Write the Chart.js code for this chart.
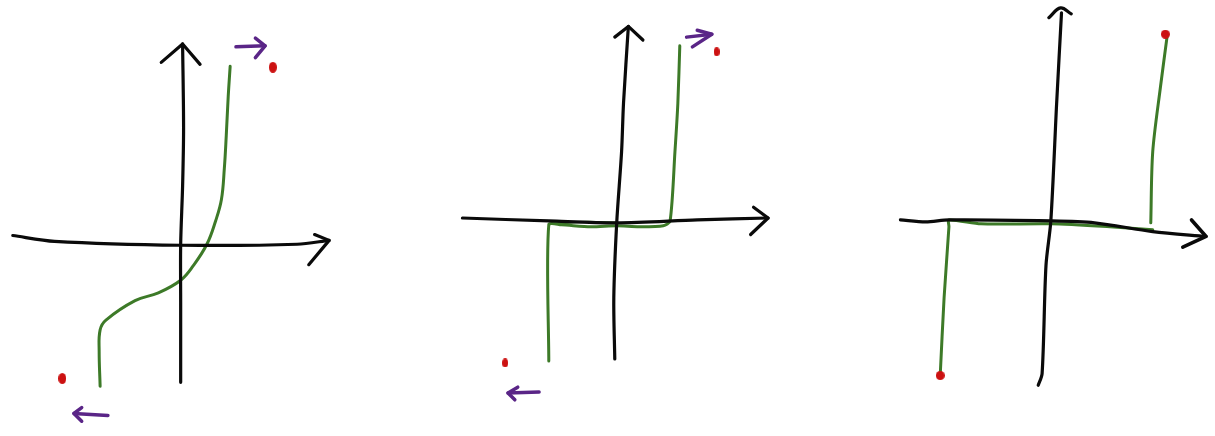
<!DOCTYPE html>
<html>
<head>
<meta charset="utf-8">
<script src="https://cdn.jsdelivr.net/npm/chart.js@4/dist/chart.umd.min.js"></script>
<style>
  html, body { margin: 0; padding: 0; background: #ffffff; }
  #wrap { position: relative; width: 1215px; height: 436px; display: flex; }
  .panel { width: 405px; height: 436px; position: relative; }
  canvas { display: block; }
</style>
</head>
<body>
<div id="wrap">
  <div class="panel"><canvas id="c1" width="405" height="436"></canvas></div>
  <div class="panel"><canvas id="c2" width="405" height="436"></canvas></div>
  <div class="panel"><canvas id="c3" width="405" height="436"></canvas></div>
</div>
<script>
// ---- Panel 1: smooth S-shaped curve ----
const p1YAxis = [{x:0,y:-142},{x:0,y:-60},{x:0,y:0},{x:2,y:60},{x:3,y:120},{x:2,y:206}];
const p1YHead = [{x:-20,y:187},{x:2,y:206},{x:20,y:185}];
const p1XAxis = [{x:-173,y:9},{x:-130,y:3},{x:0,y:-1},{x:120,y:0},{x:153,y:4}];
const p1XHead = [{x:138,y:10},{x:153,y:4},{x:132,y:-21}];
const p1Curve = [{x:-83,y:-146},{x:-84,y:-110},{x:-83,y:-88},{x:-77,y:-78},{x:-47,y:-58},{x:-23,y:-50},{x:0,y:-37},{x:13,y:-22},{x:27,y:0},{x:36,y:24},{x:42,y:46},{x:45,y:78},{x:47,y:112},{x:49,y:152},{x:51,y:183}];
const p1Dots = [{x:95,y:182},{x:-122,y:-138}];
const p1ArrowRight = [{x:57,y:203},{x:87,y:204}];
const p1ArrowRightHead = [{x:77,y:212},{x:87,y:204},{x:77,y:192}];
const p1ArrowLeft = [{x:-75,y:-176},{x:-110,y:-174}];
const p1ArrowLeftHead = [{x:-102,y:-168},{x:-110,y:-174},{x:-102,y:-182}];

// ---- Panel 2: step with flat middle ----
const p2YAxis = [{x:-2,y:-140},{x:-3,y:-77},{x:0,y:0},{x:5,y:73},{x:7,y:123},{x:12,y:202}];
const p2YHead = [{x:-2,y:191},{x:12,y:202},{x:27,y:188}];
const p2XAxis = [{x:-159,y:5},{x:-70,y:2},{x:0,y:0},{x:83,y:3},{x:156,y:5}];
const p2XHead = [{x:141,y:16},{x:156,y:5},{x:138,y:-12}];
const p2Curve = [{x:-70,y:-142},{x:-70,y:-2},{x:-57,y:-2},{x:-27,y:-4},{x:0,y:-3},{x:23,y:-4},{x:48,y:-3},{x:55,y:2},{x:60,y:73},{x:63,y:123},{x:65,y:182}];
const p2Return = [{x:-70,y:-1},{x:-30,y:1},{x:0,y:0}];
const p2Dots = [{x:103,y:176},{x:-115,y:-144}];
const p2ArrowRight = [{x:72,y:191},{x:98,y:194}];
const p2ArrowRightHead = [{x:83,y:198},{x:98,y:194},{x:78,y:181}];
const p2ArrowLeft = [{x:-80,y:-174},{x:-112,y:-175}];
const p2ArrowLeftHead = [{x:-102,y:-169},{x:-112,y:-175},{x:-105,y:-182}];

// ---- Panel 3: wide step ----
const p3YAxis = [{x:-13,y:-169},{x:-9,y:-157},{x:-5,y:-46},{x:0,y:0},{x:6,y:121},{x:11,y:214}];
const p3YHead = [{x:-2,y:209},{x:10,y:219},{x:21,y:213}];
const p3XAxis = [{x:-155,y:1},{x:-129,y:-1},{x:-105,y:1},{x:0,y:0},{x:45,y:-2},{x:105,y:-11},{x:160,y:-16}];
const p3XHead = [{x:145,y:1},{x:160,y:-16},{x:136,y:-27}];
const p3CurveLow = [{x:-114,y:-159},{x:-110,y:-79},{x:-105,y:-6},{x:-105,y:1},{x:-72,y:-3},{x:0,y:-3},{x:61,y:-6},{x:105,y:-9}];
const p3CurveHigh = [{x:103,y:-2},{x:105,y:71},{x:113,y:138},{x:120,y:191}];
const p3Dots = [{x:118,y:192},{x:-114,y:-159}];

const BLACK = '#0a0a0a';
const GREEN = '#3d7a28';
const RED = '#cc1111';
const PURPLE = '#5a2587';

// elliptical marker sprite (hand-drawn dot look)
function dotSprite(w, h) {
  const c = document.createElement('canvas');
  c.width = w; c.height = h;
  const g = c.getContext('2d');
  g.fillStyle = RED;
  g.beginPath();
  g.ellipse(w / 2, h / 2, w / 2, h / 2, 0, 0, Math.PI * 2);
  g.fill();
  return c;
}

function line(data, color, width, tension) {
  return { data, showLine: true, borderColor: color, borderWidth: width, pointRadius: 0,
           tension: tension, borderCapStyle: 'round', borderJoinStyle: 'round', fill: false };
}
function dots(data, w, h) {
  return { data, showLine: false, pointRadius: 5, pointStyle: dotSprite(w, h) };
}

function makeChart(id, ox, oy, datasets) {
  new Chart(document.getElementById(id), {
    type: 'scatter',
    data: { datasets },
    options: {
      responsive: false,
      animation: false,
      events: [],
      layout: { padding: 0 },
      plugins: { legend: { display: false }, tooltip: { enabled: false } },
      scales: {
        x: { type: 'linear', min: -ox, max: 405 - ox, display: false },
        y: { type: 'linear', min: oy - 436, max: oy, display: false }
      }
    }
  });
}

makeChart('c1', 180, 245, [
  dots(p1Dots, 8, 11),
  line(p1YAxis, BLACK, 3.2, 0.3), line(p1YHead, BLACK, 3.2, 0),
  line(p1XAxis, BLACK, 3.2, 0.3), line(p1XHead, BLACK, 3.2, 0),
  line(p1Curve, GREEN, 3, 0.4),
  line(p1ArrowRight, PURPLE, 3.5, 0), line(p1ArrowRightHead, PURPLE, 3.5, 0),
  line(p1ArrowLeft, PURPLE, 3.5, 0), line(p1ArrowLeftHead, PURPLE, 3.5, 0)
]);
makeChart('c2', 212, 223, [
  dots(p2Dots, 6, 9),
  line(p2YAxis, BLACK, 3.2, 0.3), line(p2YHead, BLACK, 3.2, 0),
  line(p2XAxis, BLACK, 3.2, 0.3), line(p2XHead, BLACK, 3.2, 0),
  line(p2Return, GREEN, 2.2, 0.3),
  line(p2Curve, GREEN, 3, 0.25),
  line(p2ArrowRight, PURPLE, 3.5, 0), line(p2ArrowRightHead, PURPLE, 3.5, 0),
  line(p2ArrowLeft, PURPLE, 3.5, 0), line(p2ArrowLeftHead, PURPLE, 3.5, 0)
]);
makeChart('c3', 242, 221, [
  dots(p3Dots, 9, 9),
  line(p3YAxis, BLACK, 3.2, 0.3), line(p3YHead, BLACK, 3.2, 0.4),
  line(p3XAxis, BLACK, 3.2, 0.3), line(p3XHead, BLACK, 3.6, 0),
  line(p3CurveLow, GREEN, 3, 0.25), line(p3CurveHigh, GREEN, 3, 0.3)
]);
</script>
</body>
</html>
